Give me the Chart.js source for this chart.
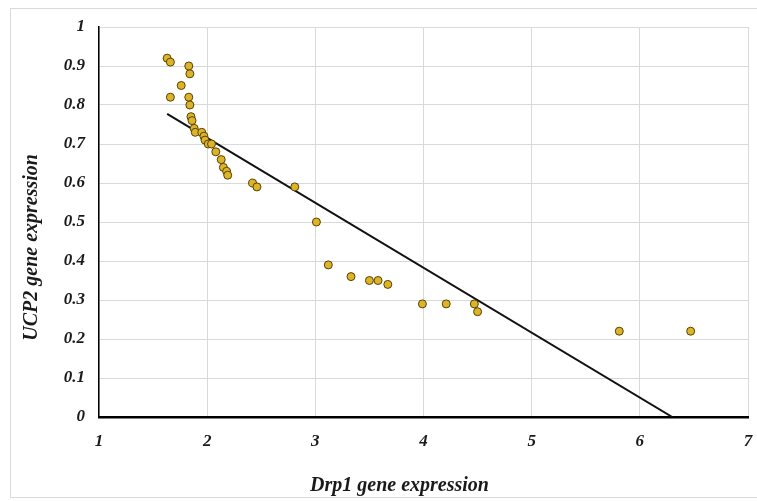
<!DOCTYPE html>
<html>
<head>
<meta charset="utf-8">
<script src="https://cdn.jsdelivr.net/npm/chart.js@4"></script>
<style>
  html, body { margin: 0; padding: 0; background: #fff; }
  #wrap { position: relative; width: 757px; height: 501px; }
</style>
</head>
<body>
<div id="wrap"><canvas id="c" width="757" height="501"></canvas></div>
<script>
// ---- data ----
const drp1Values = [1.63, 1.66, 1.83, 1.84, 1.76, 1.66, 1.83, 1.84, 1.85, 1.86, 1.88, 1.89, 1.95, 1.97, 1.98, 2.01, 2.04, 2.08, 2.13, 2.15, 2.18, 2.19, 2.42, 2.46, 2.81, 3.01, 3.12, 3.33, 3.50, 3.58, 3.67, 3.99, 4.21, 4.47, 4.50, 5.81, 6.47];
const ucp2Values = [0.92, 0.91, 0.90, 0.88, 0.85, 0.82, 0.82, 0.80, 0.77, 0.76, 0.74, 0.73, 0.73, 0.72, 0.71, 0.70, 0.70, 0.68, 0.66, 0.64, 0.63, 0.62, 0.60, 0.59, 0.59, 0.50, 0.39, 0.36, 0.35, 0.35, 0.34, 0.29, 0.29, 0.29, 0.27, 0.22, 0.22];
const trendX = [1.63, 6.30];
const trendY = [0.777, 0];
const xTitle = 'Drp1 gene expression';
const yTitle = 'UCP2 gene expression';

const points = drp1Values.map((x, i) => ({ x: x, y: ucp2Values[i] }));
const trend = trendX.map((x, i) => ({ x: x, y: trendY[i] }));

const FONT_FAMILY = '"Liberation Serif", "Times New Roman", serif';

const framePlugin = {
  id: 'frame',
  beforeDraw(chart) {
    const ctx = chart.ctx;
    ctx.save();
    ctx.fillStyle = '#fff';
    ctx.fillRect(0, 0, chart.width, chart.height);
    ctx.strokeStyle = '#d9d9d9';
    ctx.lineWidth = 1;
    ctx.strokeRect(10.5, 8.5, chart.width + 5, 489);
    ctx.restore();
  }
};

const titlesPlugin = {
  id: 'axisTitles',
  afterDraw(chart) {
    const ctx = chart.ctx;
    const a = chart.chartArea;
    ctx.save();
    ctx.fillStyle = '#1a1a1a';
    ctx.font = 'italic bold 20px ' + FONT_FAMILY;
    ctx.textAlign = 'center';
    ctx.textBaseline = 'middle';
    ctx.fillText(xTitle, a.left + (a.right - a.left) * 0.463, 486);
    ctx.translate(32, a.top + (a.bottom - a.top) * 0.565);
    ctx.rotate(-Math.PI / 2);
    ctx.fillText(yTitle, 0, 0);
    ctx.restore();
  }
};

new Chart(document.getElementById('c'), {
  type: 'scatter',
  data: {
    datasets: [
      {
        label: 'Trend',
        type: 'line',
        data: trend,
        borderColor: '#111',
        borderWidth: 2,
        pointRadius: 0,
        fill: false,
        tension: 0,
        order: 2
      },
      {
        label: 'Samples',
        data: points,
        backgroundColor: '#dcb42a',
        borderColor: '#5a4200',
        borderWidth: 1,
        pointRadius: 4,
        pointHoverRadius: 4,
        order: 1
      }
    ]
  },
  options: {
    responsive: false,
    animation: false,
    events: [],
    layout: { padding: { top: 27, right: 9, left: 0, bottom: 0 } },
    plugins: {
      legend: { display: false },
      tooltip: { enabled: false }
    },
    scales: {
      x: {
        type: 'linear',
        min: 1,
        max: 7,
        afterFit(scale) {
          scale.height = 84;
          scale.paddingLeft = 0;
          scale.paddingRight = 0;
        },
        ticks: {
          stepSize: 1,
          padding: 14,
          color: '#1a1a1a',
          font: { family: FONT_FAMILY, size: 17, style: 'italic', weight: 'bold' }
        },
        grid: { color: '#d9d9d9', drawTicks: false, lineWidth: 1 },
        border: { color: '#000', width: 2.5 }
      },
      y: {
        type: 'linear',
        min: 0,
        max: 1,
        afterFit(scale) {
          scale.width = 99;
          scale.paddingTop = 0;
          scale.paddingBottom = 0;
        },
        ticks: {
          stepSize: 0.1,
          padding: 14,
          color: '#1a1a1a',
          font: { family: FONT_FAMILY, size: 17, style: 'italic', weight: 'bold' },
          callback: (v) => Math.round(v * 10) / 10
        },
        grid: { color: '#d9d9d9', drawTicks: false, lineWidth: 1 },
        border: { color: '#000', width: 1.5 }
      }
    }
  },
  plugins: [framePlugin, titlesPlugin]
});
</script>
</body>
</html>
